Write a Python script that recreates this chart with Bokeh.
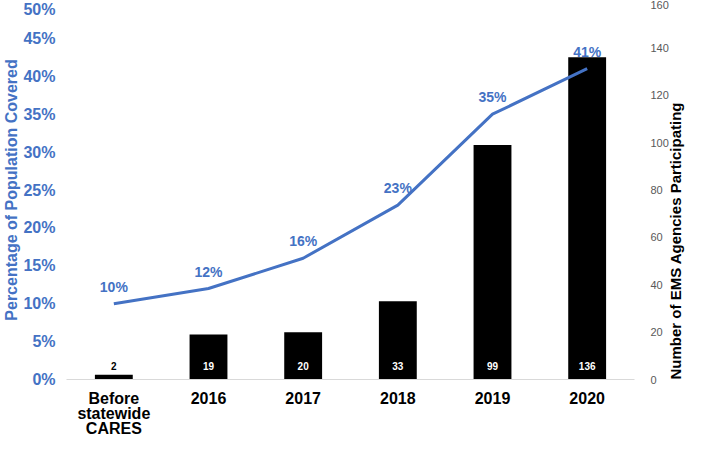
import math
from bokeh.plotting import figure
from bokeh.models import Range1d, LinearAxis, FixedTicker, PrintfTickFormatter, ColumnDataSource
from bokeh.core.properties import value
from bokeh.embed import file_html
from bokeh.resources import INLINE

categories = ["Before\nstatewide\nCARES", "2016", "2017", "2018", "2019", "2020"]
agencies = [2, 19, 20, 33, 99, 136]
coverage = [10, 12, 16, 23, 35, 41]
coverage_labels = ["10%", "12%", "16%", "23%", "35%", "41%"]
left_ticks = [0, 5, 10, 15, 20, 25, 30, 35, 40, 45, 50]
right_ticks = [0, 20, 40, 60, 80, 100, 120, 140, 160]

BLUE = "#4472C4"
FONT = "Liberation Sans"

xs = list(range(len(categories)))

p = figure(x_range=Range1d(-0.5, len(categories) - 0.5), y_range=Range1d(0, 50),
           width=695, height=440, output_backend="svg", toolbar_location=None,
           min_border_left=0, min_border_right=0, min_border_top=0, min_border_bottom=0)
p.outline_line_color = None
p.grid.grid_line_color = None
p.background_fill_color = "white"

p.extra_y_ranges = {"count": Range1d(0, 160)}

bar_src = ColumnDataSource(dict(x=xs, top=agencies,
                                lab=[str(a) for a in agencies],
                                col=["black"] + ["white"] * 5))
p.vbar(x="x", top="top", width=0.4, source=bar_src, y_range_name="count",
       fill_color="black", line_color=None)
p.text(x="x", y=0, text="lab", source=bar_src, y_range_name="count",
       text_color="col", text_font=value(FONT), text_font_style="bold",
       text_font_size="10px", text_align="center", text_baseline="middle", y_offset=-14)

line_src = ColumnDataSource(dict(x=xs, y=coverage, lab=coverage_labels))
p.line(x="x", y="y", source=line_src, line_color=BLUE, line_width=3)
p.text(x="x", y="y", text="lab", source=line_src, text_color=BLUE,
       text_font=value(FONT), text_font_style="bold", text_font_size="14px",
       text_align="center", text_baseline="middle", y_offset=-17)

# left axis
ya = p.yaxis[0]
ya.ticker = FixedTicker(ticks=left_ticks)
ya.formatter = PrintfTickFormatter(format="%d%%")
ya.axis_label = "Percentage of Population Covered"
ya.axis_label_text_color = BLUE
ya.axis_label_text_font = FONT
ya.axis_label_text_font_style = "bold"
ya.axis_label_text_font_size = "16px"
ya.axis_label_standoff = 0
ya.major_label_text_color = BLUE
ya.major_label_text_font = FONT
ya.major_label_text_font_style = "bold"
ya.major_label_text_font_size = "16px"
ya.major_label_standoff = 5
ya.axis_line_color = None
ya.major_tick_line_color = None
ya.minor_tick_line_color = None

# right axis
ra = LinearAxis(y_range_name="count", ticker=FixedTicker(ticks=right_ticks))
ra.axis_label = "Number of EMS Agencies Participating"
ra.axis_label_orientation = math.pi / 2
if "axis_label_align" in ra.properties():
    ra.axis_label_align = "start"
ra.axis_label_text_color = "black"
ra.axis_label_text_font = FONT
ra.axis_label_text_font_style = "bold"
ra.axis_label_text_font_size = "15px"
ra.axis_label_standoff = 4
ra.major_label_text_color = "#595959"
ra.major_label_text_font = FONT
ra.major_label_text_font_size = "11px"
ra.major_label_standoff = 10
ra.axis_line_color = None
ra.major_tick_line_color = None
ra.minor_tick_line_color = None
p.add_layout(ra, "right")

# x axis
xa = p.xaxis[0]
xa.axis_label = None
xa.axis_label_standoff = 0
xa.ticker = FixedTicker(ticks=xs)
xa.major_label_overrides = {x: c for x, c in zip(xs, categories)}
xa.major_label_text_font = FONT
xa.major_label_text_font_style = "bold"
xa.major_label_text_font_size = "16px"
xa.major_label_text_line_height = 0.9
xa.major_label_text_color = "black"
xa.major_label_standoff = 4
xa.axis_line_color = "#D9D9D9"
xa.axis_line_width = 1
xa.major_tick_line_color = None
xa.minor_tick_line_color = None

open("out.html", "w").write(file_html(p, INLINE))
